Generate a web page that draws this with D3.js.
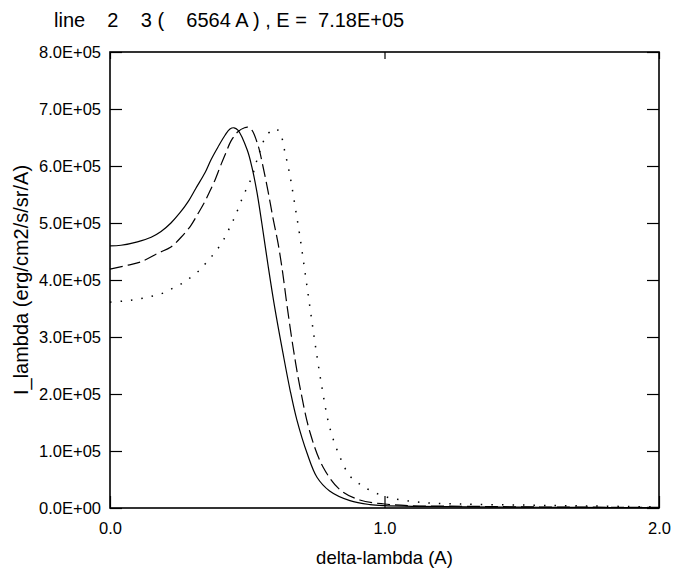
<!DOCTYPE html>
<html>
<head>
<meta charset="utf-8">
<script src="https://cdn.jsdelivr.net/npm/d3@7"></script>
<style>
  html, body { margin: 0; padding: 0; background: #fff; }
  text { font-family: "Liberation Sans", Arial, sans-serif; fill: #000; }
</style>
</head>
<body>
<svg id="chart" width="677" height="575"></svg>
<script>
// ---- data (intensity in units of 1E+05) ----
const titleText = "line    2    3 (    6564 A ) , E =  7.18E+05";
const xLabel = "delta-lambda (A)";
const yLabel = "I_lambda (erg/cm2/s/sr/A)";
const xTickValues = [0, 1, 2];
const xTickLabels = ["0.0", "1.0", "2.0"];
const yTickValues = [0, 1, 2, 3, 4, 5, 6, 7, 8];
const yTickLabels = ["0.0E+00", "1.0E+05", "2.0E+05", "3.0E+05", "4.0E+05", "5.0E+05", "6.0E+05", "7.0E+05", "8.0E+05"];

const solidX = [0, 0.04, 0.10, 0.15, 0.186, 0.222, 0.255, 0.284, 0.313, 0.346, 0.368, 0.393, 0.419, 0.437, 0.452, 0.466, 0.50, 0.517, 0.535, 0.553, 0.576, 0.60, 0.63, 0.656, 0.681, 0.718, 0.754, 0.80, 0.874, 0.947, 1.0, 1.1, 1.3, 1.5, 1.7, 2.0];
const solidY = [4.60, 4.61, 4.67, 4.75, 4.85, 5.00, 5.18, 5.37, 5.61, 5.88, 6.11, 6.33, 6.54, 6.65, 6.67, 6.63, 6.28, 5.98, 5.55, 5.00, 4.25, 3.52, 2.72, 2.07, 1.54, 0.96, 0.54, 0.30, 0.13, 0.06, 0.04, 0.03, 0.02, 0.015, 0.01, 0.005];

const dashedX = [0, 0.066, 0.113, 0.175, 0.222, 0.259, 0.295, 0.32, 0.346, 0.364, 0.383, 0.404, 0.423, 0.441, 0.466, 0.49, 0.503, 0.517, 0.54, 0.557, 0.576, 0.594, 0.612, 0.627, 0.645, 0.667, 0.692, 0.729, 0.776, 0.838, 0.91, 1.0, 1.1, 1.3, 1.5, 1.7, 2.0];
const dashedY = [4.19, 4.26, 4.32, 4.47, 4.58, 4.75, 4.96, 5.16, 5.38, 5.56, 5.76, 6.02, 6.24, 6.44, 6.60, 6.67, 6.68, 6.63, 6.35, 6.00, 5.55, 5.08, 4.65, 4.20, 3.55, 2.82, 2.12, 1.32, 0.72, 0.32, 0.14, 0.07, 0.04, 0.03, 0.02, 0.015, 0.01];

const dottedX = [0, 0.047, 0.084, 0.12, 0.157, 0.193, 0.23, 0.266, 0.295, 0.328, 0.35, 0.375, 0.40, 0.419, 0.437, 0.455, 0.484, 0.517, 0.539, 0.565, 0.59, 0.605, 0.62, 0.637, 0.656, 0.674, 0.692, 0.71, 0.729, 0.747, 0.772, 0.80, 0.838, 0.874, 0.91, 0.947, 1.01, 1.13, 1.275, 1.52, 1.75, 1.98];
const dottedY = [3.61, 3.63, 3.65, 3.68, 3.72, 3.77, 3.86, 3.95, 4.05, 4.18, 4.30, 4.44, 4.60, 4.75, 4.93, 5.11, 5.46, 5.81, 6.16, 6.49, 6.63, 6.65, 6.58, 6.25, 5.82, 5.30, 4.76, 4.15, 3.50, 2.89, 2.12, 1.42, 0.89, 0.56, 0.42, 0.31, 0.19, 0.10, 0.07, 0.05, 0.035, 0.02];

// ---- chart ----
const svg = d3.select("#chart");
const x = d3.scaleLinear().domain([0, 2]).range([110, 659]);
const y = d3.scaleLinear().domain([0, 8]).range([508, 52]);

// title
svg.append("text")
  .attr("x", 54).attr("y", 27)
  .attr("font-size", 20)
  .style("white-space", "pre")
  .attr("xml:space", "preserve")
  .text(titleText);

// axes
const gLeft = svg.append("g").attr("transform", `translate(${x(0)},0)`)
  .call(d3.axisLeft(y).tickValues(yTickValues).tickSize(-12).tickPadding(9)
    .tickFormat((d, i) => yTickLabels[i]));
const gRight = svg.append("g").attr("transform", `translate(${x(2)},0)`)
  .call(d3.axisRight(y).tickValues(yTickValues).tickSize(-12).tickFormat(""));
const gBottom = svg.append("g").attr("transform", `translate(0,${y(0)})`)
  .call(d3.axisBottom(x).tickValues(xTickValues).tickSize(-12).tickPadding(14)
    .tickFormat((d, i) => xTickLabels[i]));
const gTop = svg.append("g").attr("transform", `translate(0,${y(8)})`)
  .call(d3.axisTop(x).tickValues(xTickValues).tickSize(-7).tickFormat(""));

[gLeft, gRight, gBottom, gTop].forEach(g => {
  g.select(".domain").remove();
  g.selectAll(".tick line").attr("stroke", "#000").attr("stroke-width", 1.2);
  g.selectAll(".tick text").attr("font-size", 16.5)
    .attr("font-family", "Liberation Sans, Arial, sans-serif").attr("fill", "#000");
});

// frame
svg.append("rect")
  .attr("x", x(0)).attr("y", y(8))
  .attr("width", x(2) - x(0)).attr("height", y(0) - y(8))
  .attr("fill", "none").attr("stroke", "#000").attr("stroke-width", 1.6);

// axis labels
svg.append("text")
  .attr("x", (x(0) + x(2)) / 2).attr("y", 564)
  .attr("text-anchor", "middle").attr("font-size", 18.5)
  .text(xLabel);
svg.append("text")
  .attr("transform", `translate(28,${(y(0) + y(8)) / 2}) rotate(-90)`)
  .attr("text-anchor", "middle").attr("font-size", 20)
  .text(yLabel);

// curves
const line = d3.line().x(d => x(d[0])).y(d => y(d[1])).curve(d3.curveCatmullRom.alpha(0.5));
const plot = svg.append("g");
function draw(xs, ys, dash, width) {
  plot.append("path")
    .datum(xs.map((v, i) => [v, ys[i]]))
    .attr("d", line)
    .attr("fill", "none").attr("stroke", "#000")
    .attr("stroke-width", width)
    .attr("stroke-dasharray", dash);
}
draw(solidX, solidY, null, 1.2);
draw(dashedX, dashedY, "13,5", 1.2);
draw(dottedX, dottedY, "1.5,9", 1.5);
</script>
</body>
</html>
